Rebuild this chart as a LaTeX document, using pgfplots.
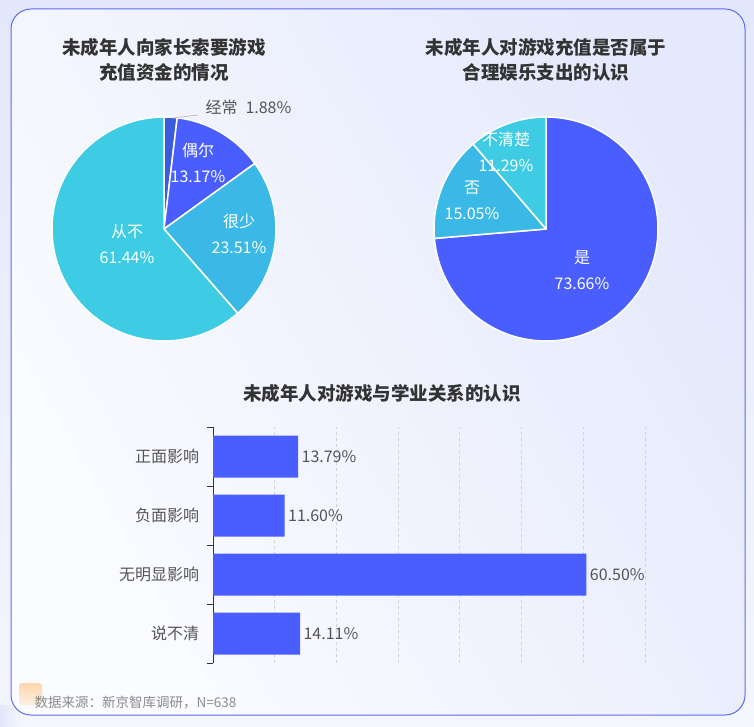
\documentclass[border=0pt]{standalone}
\usepackage{fontspec}
\setmainfont{Noto Sans CJK SC}
\usepackage{pgfplots}
\usepackage{pgfplotstable}
\pgfplotsset{compat=1.18}

\definecolor{titlegray}{HTML}{333333}
\definecolor{labelgray}{HTML}{555555}
\definecolor{footgray}{HTML}{8A8A8A}
\definecolor{cardline}{HTML}{5B6CF0}
\definecolor{cA}{HTML}{3A5BDC}
\definecolor{cB}{HTML}{4A5EFF}
\definecolor{cC}{HTML}{3BB9E6}
\definecolor{cD}{HTML}{3DCCE4}
\definecolor{bgtop}{HTML}{E3E7FB}
\definecolor{bgbot}{HTML}{F4F6FE}
\definecolor{cardtl}{HTML}{E4E9FC}
\definecolor{cardbr}{HTML}{FBFCFF}

% pie data: share in percent, clockwise from 12 o'clock
\pgfplotstableread[col sep=comma]{
label,value,color
经常,1.88,cA
偶尔,13.17,cB
很少,23.51,cC
从不,61.44,cD
}\pieA
\pgfplotstableread[col sep=comma]{
label,value,color
是,73.66,cB
否,15.05,cC
不清楚,11.29,cD
}\pieB

\newcommand\piefont{\fontsize{16}{26}\selectfont}
\newcommand\titlefont{\fontsize{18.5}{25}\selectfont\bfseries}

% draws the slices of table #1 inside the current axis
\newcommand\drawpie[1]{%
  \pgfplotsextra{%
    \gdef\cum{0}%
    \pgfplotstablegetrowsof{#1}%
    \pgfmathtruncatemacro\lastrow{\pgfplotsretval-1}%
    \foreach \i in {0,...,\lastrow}{%
      \pgfplotstablegetelem{\i}{value}\of{#1}\let\sv\pgfplotsretval
      \pgfplotstablegetelem{\i}{color}\of{#1}\let\scol\pgfplotsretval
      \pgfmathsetmacro\sa{90-3.6*\cum}%
      \pgfmathsetmacro\sb{90-3.6*(\cum+\sv)}%
      \fill[fill=\scol, draw=white, line width=1.5pt, line join=round]
        (axis cs:0,0) -- ++(\sa:112pt) arc[start angle=\sa, end angle=\sb, radius=112pt] -- cycle;
      \pgfmathsetmacro\newcum{\cum+\sv}\global\let\cum\newcum
    }%
  }%
}

\pgfplotsset{
  pieaxis/.style={
    anchor=center, scale only axis, width=224pt, height=224pt,
    xmin=-112, xmax=112, ymin=-112, ymax=112,
    hide axis, clip=false,
  },
}

\begin{document}
\begin{tikzpicture}[x=1pt, y=1pt]
\useasboundingbox (0,0) rectangle (754,-727);
% background and card
\shade[top color=bgtop, bottom color=bgbot] (0,0) rectangle (754,-727);
\shade[left color=bgtop!70!cardline!40, right color=bgbot] (0,-705) rectangle (20,-727);
\shade[rounded corners=20pt, left color=cardtl, right color=cardbr, shading angle=-60]
  (11,-9) rectangle (745,-715);
\draw[cardline, line width=1pt, rounded corners=20pt] (11,-9) rectangle (745,-715);
\shade[rounded corners=3pt, top color=orange!45, bottom color=orange!15, opacity=0.7]
  (19,-683) rectangle (42,-705);

% titles
\node[align=center, text=titlegray, font=\titlefont] at (164,-59.5)
  {未成年人向家长索要游戏\\充值资金的情况};
\node[align=center, text=titlegray, font=\titlefont] at (546,-59.5)
  {未成年人对游戏充值是否属于\\合理娱乐支出的认识};
\node[text=titlegray, font=\titlefont] at (382,-393)
  {未成年人对游戏与学业关系的认识};

% left pie
\begin{axis}[pieaxis, at={(164pt,-229pt)}]
\drawpie{\pieA}
\draw[gray!60, line width=0.6pt] (axis cs:8,111) -- (axis cs:34,114);
\node[anchor=west, text=labelgray, font=\piefont] at (axis cs:38,122) {经常\enspace 1.88\%};
\node[align=center, text=white, font=\piefont] at (axis cs:34,66) {偶尔\\13.17\%};
\node[align=center, text=white, font=\piefont] at (axis cs:75,-5) {很少\\23.51\%};
\node[align=center, text=white, font=\piefont] at (axis cs:-37,-15) {从不\\61.44\%};
\end{axis}

% right pie
\begin{axis}[pieaxis, at={(546pt,-229pt)}]
\drawpie{\pieB}
\node[align=center, text=white, font=\piefont] at (axis cs:36,-41) {是\\73.66\%};
\node[align=center, text=white, font=\piefont] at (axis cs:-74,29) {否\\15.05\%};
\node[align=center, text=white, font=\piefont] at (axis cs:-40,77) {不清楚\\11.29\%};
\end{axis}

% bar chart
\begin{axis}[
    at={(213pt,-663pt)}, anchor=south west,
    scale only axis, width=432pt, height=236pt,
    xbar, bar width=42pt,
    xmin=0, xmax=70, ymin=0.5, ymax=4.5,
    axis lines*=left,
    x axis line style={draw=none},
    y axis line style={draw=black!80, line width=1pt},
    xtick={10,20,...,70}, xticklabels={},
    xtick style={draw=none},
    xmajorgrids, grid style={dashed, gray!35, line width=0.8pt},
    ytick={1,2,3,4},
    yticklabels={说不清,无明显影响,负面影响,正面影响},
    major y tick style={draw=none},
    minor ytick={0.5,1.5,2.5,3.5,4.5},
    minor tick length=6pt, tick align=outside,
    minor y tick style={draw=black!80, line width=1pt},
    yticklabel style={font=\fontsize{16}{16}\selectfont, text=labelgray, xshift=-6pt},
    point meta=x,
    nodes near coords={\pgfmathprintnumber[fixed, fixed zerofill, precision=2, assume math mode=true]{\pgfplotspointmeta}\%},
    nodes near coords style={font=\fontsize{16}{16}\selectfont, text=labelgray, anchor=west},
]
\addplot[fill=cB, draw=none] coordinates {(13.79,4) (11.60,3) (60.50,2) (14.11,1)};
\end{axis}

% source
\node[anchor=west, text=footgray, font=\fontsize{13.5}{14}\selectfont] at (31,-702)
  {数据来源：新京智库调研，N=638};
\end{tikzpicture}
\end{document}
